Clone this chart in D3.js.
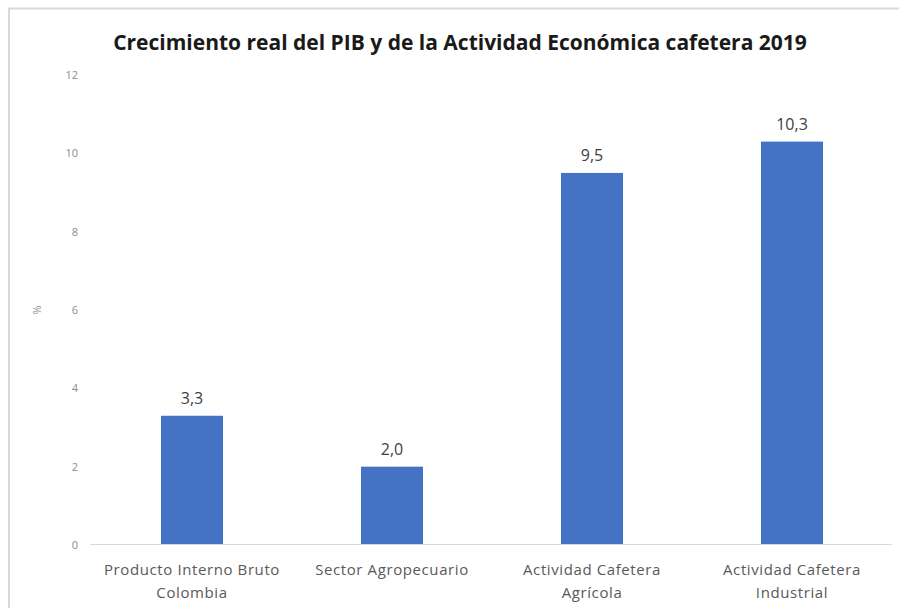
<!DOCTYPE html>
<html>
<head>
<meta charset="utf-8">
<script src="https://cdn.jsdelivr.net/npm/d3@7"></script>
<style>
  body { margin: 0; background: #fff; }
  text { font-family: "Open Sans", "Noto Sans", sans-serif; }
</style>
</head>
<body>
<div id="chart"></div>
<script>
var width = 899,
  height = 608;

// chart data
var categories = [
  ["Producto Interno Bruto", "Colombia"],
  ["Sector Agropecuario"],
  ["Actividad Cafetera", "Agrícola"],
  ["Actividad Cafetera", "Industrial"]
];
var values = [3.3, 2.0, 9.5, 10.3];
var yTicks = [0, 2, 4, 6, 8, 10, 12];
var title = "Crecimiento real del PIB y de la Actividad Económica cafetera 2019";

var svg = d3.select("#chart").append("svg")
  .attr("width", width)
  .attr("height", height);

// light frame of the chart area
svg.append("path")
  .attr("d", "M9,608 V8.5 H899")
  .attr("fill", "none")
  .attr("stroke", "#d9d9d9")
  .attr("stroke-width", 2);

var x = d3.scaleBand()
  .domain(d3.range(values.length))
  .range([92, 892])
  .paddingInner(0.69)
  .paddingOuter(0.345);

var y = d3.scaleLinear()
  .domain([0, 12])
  .range([545, 75]);

// title
svg.append("text")
  .attr("x", 460)
  .attr("y", 50)
  .attr("text-anchor", "middle")
  .attr("font-size", 21)
  .attr("font-weight", "bold")
  .attr("fill", "#1a1a1a")
  .text(title);

// y axis labels only (no line, no grid)
var yAxis = svg.append("g")
  .attr("transform", "translate(78,0)")
  .call(d3.axisLeft(y).tickValues(yTicks).tickSize(0).tickPadding(0));
yAxis.select(".domain").remove();
yAxis.selectAll("text")
  .attr("font-family", "'Open Sans', sans-serif")
  .attr("font-size", 11)
  .attr("fill", "#8c8c8c");

svg.append("text")
  .attr("transform", "translate(37," + y(6) + ") rotate(-90)")
  .attr("text-anchor", "middle")
  .attr("dy", "0.35em")
  .attr("font-size", 11)
  .attr("fill", "#8c8c8c")
  .text("%");

// bars
svg.append("g").selectAll("rect")
  .data(values)
  .enter().append("rect")
  .attr("x", function(d, i) { return x(i); })
  .attr("y", function(d) { return y(d); })
  .attr("width", x.bandwidth())
  .attr("height", function(d) { return y(0) - y(d); })
  .attr("fill", "#4472c4");

// baseline
svg.append("line")
  .attr("x1", 90).attr("x2", 892)
  .attr("y1", y(0) - 0.5).attr("y2", y(0) - 0.5)
  .attr("stroke", "#d9d9d9")
  .attr("stroke-width", 1);

// value labels
svg.append("g").selectAll("text")
  .data(values)
  .enter().append("text")
  .attr("x", function(d, i) { return x(i) + x.bandwidth() / 2; })
  .attr("y", function(d) { return y(d) - 12; })
  .attr("text-anchor", "middle")
  .attr("font-size", 16)
  .attr("fill", "#404040")
  .text(function(d) { return d.toFixed(1).replace(".", ","); });

// category labels
var cat = svg.append("g").selectAll("text")
  .data(categories)
  .enter().append("text")
  .attr("x", function(d, i) { return x(i) + x.bandwidth() / 2; })
  .attr("y", 575)
  .attr("text-anchor", "middle")
  .attr("font-size", 15)
  .attr("letter-spacing", 0.6)
  .attr("fill", "#595959");

cat.selectAll("tspan")
  .data(function(d) { return d; })
  .enter().append("tspan")
  .attr("x", function() { return d3.select(this.parentNode).attr("x"); })
  .attr("dy", function(d, i) { return i === 0 ? 0 : 23; })
  .text(function(d) { return d; });
</script>
</body>
</html>
